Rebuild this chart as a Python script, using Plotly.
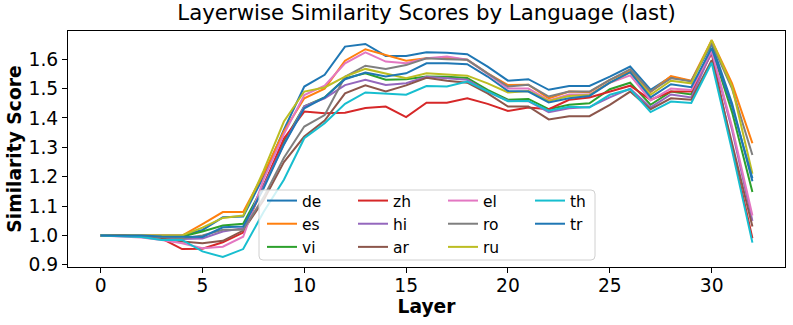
import plotly.graph_objects as go

layers = list(range(33))

de = [1.0, 1.0, 1.0, 1.0, 1.0, 1.019, 1.062, 1.065, 1.20, 1.36, 1.507, 1.547, 1.643, 1.652, 1.611, 1.611, 1.624,
      1.622, 1.617, 1.575, 1.527, 1.532, 1.496, 1.509, 1.509, 1.541, 1.575, 1.496, 1.540, 1.525, 1.652, 1.45, 1.185]
es = [1.0, 1.0, 1.0, 1.0, 1.0, 1.039, 1.08, 1.08, 1.21, 1.355, 1.467, 1.50, 1.595, 1.634, 1.614, 1.595, 1.603,
      1.605, 1.598, 1.552, 1.512, 1.513, 1.467, 1.49, 1.488, 1.53, 1.56, 1.488, 1.543, 1.527, 1.665, 1.518, 1.314]
vi = [1.0, 1.0, 1.0, 0.998, 0.997, 1.014, 1.034, 1.04, 1.17, 1.32, 1.44, 1.47, 1.535, 1.552, 1.53, 1.532, 1.541,
      1.54, 1.536, 1.496, 1.462, 1.465, 1.43, 1.445, 1.45, 1.498, 1.52, 1.445, 1.49, 1.48, 1.638, 1.42, 1.148]
zh = [1.0, 1.0, 0.997, 0.99, 0.954, 0.955, 0.977, 1.01, 1.17, 1.33, 1.422, 1.416, 1.418, 1.434, 1.439, 1.403, 1.452,
      1.452, 1.467, 1.448, 1.424, 1.436, 1.43, 1.462, 1.47, 1.49, 1.51, 1.462, 1.49, 1.49, 1.62, 1.30, 0.991]
hi = [1.0, 1.0, 0.998, 0.993, 0.988, 0.99, 1.014, 1.025, 1.17, 1.31, 1.44, 1.467, 1.512, 1.53, 1.512, 1.518, 1.54,
      1.535, 1.53, 1.49, 1.459, 1.457, 1.42, 1.433, 1.437, 1.47, 1.50, 1.436, 1.48, 1.47, 1.625, 1.36, 1.05]
ar = [1.0, 1.0, 0.997, 0.99, 0.98, 0.974, 0.982, 1.017, 1.12, 1.25, 1.337, 1.391, 1.484, 1.511, 1.49, 1.511, 1.537,
      1.527, 1.52, 1.484, 1.439, 1.439, 1.395, 1.406, 1.406, 1.445, 1.49, 1.43, 1.467, 1.462, 1.597, 1.31, 1.031]
el = [1.0, 0.997, 0.993, 0.985, 0.974, 0.957, 0.962, 0.996, 1.19, 1.345, 1.478, 1.51, 1.586, 1.623, 1.592, 1.586,
      1.603, 1.609, 1.598, 1.55, 1.50, 1.50, 1.46, 1.48, 1.48, 1.52, 1.545, 1.46, 1.50, 1.495, 1.63, 1.37, 1.068]
ro = [1.0, 1.0, 0.998, 0.995, 0.99, 1.0, 1.02, 1.02, 1.13, 1.265, 1.371, 1.41, 1.54, 1.578, 1.567, 1.58, 1.603,
      1.60, 1.598, 1.552, 1.507, 1.513, 1.473, 1.49, 1.49, 1.53, 1.566, 1.49, 1.535, 1.525, 1.655, 1.50, 1.274]
ru = [1.0, 1.0, 1.0, 1.0, 1.0, 1.027, 1.06, 1.068, 1.22, 1.388, 1.49, 1.504, 1.541, 1.567, 1.55, 1.535, 1.552,
      1.548, 1.544, 1.518, 1.487, 1.492, 1.458, 1.475, 1.478, 1.52, 1.555, 1.479, 1.527, 1.518, 1.665, 1.507, 1.21]
th = [1.0, 0.998, 0.995, 0.985, 0.985, 0.946, 0.927, 0.954, 1.08, 1.19, 1.331, 1.382, 1.448, 1.487, 1.484, 1.479,
      1.509, 1.507, 1.524, 1.49, 1.457, 1.458, 1.425, 1.438, 1.436, 1.479, 1.498, 1.42, 1.456, 1.451, 1.588, 1.29, 0.976]
tr = [1.0, 1.0, 1.0, 0.997, 0.995, 0.995, 1.028, 1.031, 1.16, 1.31, 1.433, 1.47, 1.532, 1.555, 1.541, 1.552, 1.586,
      1.586, 1.583, 1.541, 1.492, 1.49, 1.453, 1.467, 1.475, 1.52, 1.556, 1.47, 1.515, 1.505, 1.638, 1.44, 1.195]

languages = ['de', 'es', 'vi', 'zh', 'hi', 'ar', 'el', 'ro', 'ru', 'th', 'tr']
scores = [de, es, vi, zh, hi, ar, el, ro, ru, th, tr]

# matplotlib tab10 cycle
colors = ['#1f77b4', '#ff7f0e', '#2ca02c', '#d62728', '#9467bd', '#8c564b',
          '#e377c2', '#7f7f7f', '#bcbd22', '#17becf', '#1f77b4']

W, H = 793, 325
ML, MR, MT, MB = 68, 8, 31, 58
PW, PH = W - ML - MR, H - MT - MB


def px_x(px):
    return (px - ML) / PW


def px_y(py):
    return (H - MB - py) / PH


legend_names = ['legend', 'legend2', 'legend3', 'legend4']

fig = go.Figure()
for i, (lang, vals) in enumerate(zip(languages, scores)):
    fig.add_trace(go.Scatter(
        x=layers,
        y=vals,
        mode='lines',
        name=lang,
        line=dict(color=colors[i], width=2),
        legend=legend_names[i // 3],
    ))

font = 'DejaVu Sans'
legend_font = dict(family=font, size=15.5, color='black')
col_px = [262, 353, 443, 530]
legends = {}
for name, cx in zip(legend_names, col_px):
    legends[name] = dict(
        x=px_x(cx), y=px_y(184), xanchor='left', yanchor='top',
        orientation='v', bgcolor='rgba(0,0,0,0)', borderwidth=0,
        font=legend_font, itemwidth=30, tracegroupgap=0,
    )

# legend frame (rounded, semi-opaque white like matplotlib)
x0, x1, y0, y1 = px_x(259), px_x(595), px_y(260), px_y(190)
rx, ry = 4 / PW, 4 / PH
frame_path = (f'M{x0 + rx},{y0} L{x1 - rx},{y0} Q{x1},{y0} {x1},{y0 + ry} '
              f'L{x1},{y1 - ry} Q{x1},{y1} {x1 - rx},{y1} '
              f'L{x0 + rx},{y1} Q{x0},{y1} {x0},{y1 - ry} '
              f'L{x0},{y0 + ry} Q{x0},{y0} {x0 + rx},{y0} Z')

fig.update_layout(
    width=W, height=H,
    margin=dict(l=ML, r=MR, t=MT, b=MB, autoexpand=False),
    paper_bgcolor='white', plot_bgcolor='white',
    font=dict(family=font, color='black'),
    title=dict(text='Layerwise Similarity Scores by Language (last)',
               x=(ML + PW / 2) / W, xanchor='center',
               y=1 - 13 / H, yanchor='middle', yref='container',
               font=dict(family=font, size=21.3, color='black')),
    shapes=[dict(type='path', path=frame_path, xref='paper', yref='paper',
                 line=dict(color='#d0d0d0', width=1),
                 fillcolor='rgba(255,255,255,0.8)', layer='above')],
    **legends,
)

axis_common = dict(
    showgrid=False, zeroline=False, showline=True, linecolor='black', linewidth=1,
    mirror=True, ticks='outside', ticklen=5, tickwidth=1, tickcolor='black',
    tickfont=dict(family=font, size=18.7, color='black'), automargin=False,
)
fig.update_xaxes(range=[-1.6, 33.6], tick0=0, dtick=5, ticklabelstandoff=-3, **axis_common,
                 title=dict(text='Layer', standoff=4,
                            font=dict(family=font, size=18.7, weight='bold')))
fig.update_yaxes(range=[0.893, 1.696], tick0=0.9, dtick=0.1, tickformat='.1f', **axis_common,
                 title=dict(text='Similarity Score', standoff=1,
                            font=dict(family=font, size=18.7, weight='bold')))

# drop the default 8px page margin so the figure fills the window exactly
fig.write_html('out.html', config={'displayModeBar': False},
               post_script="document.body.style.margin='0';")
